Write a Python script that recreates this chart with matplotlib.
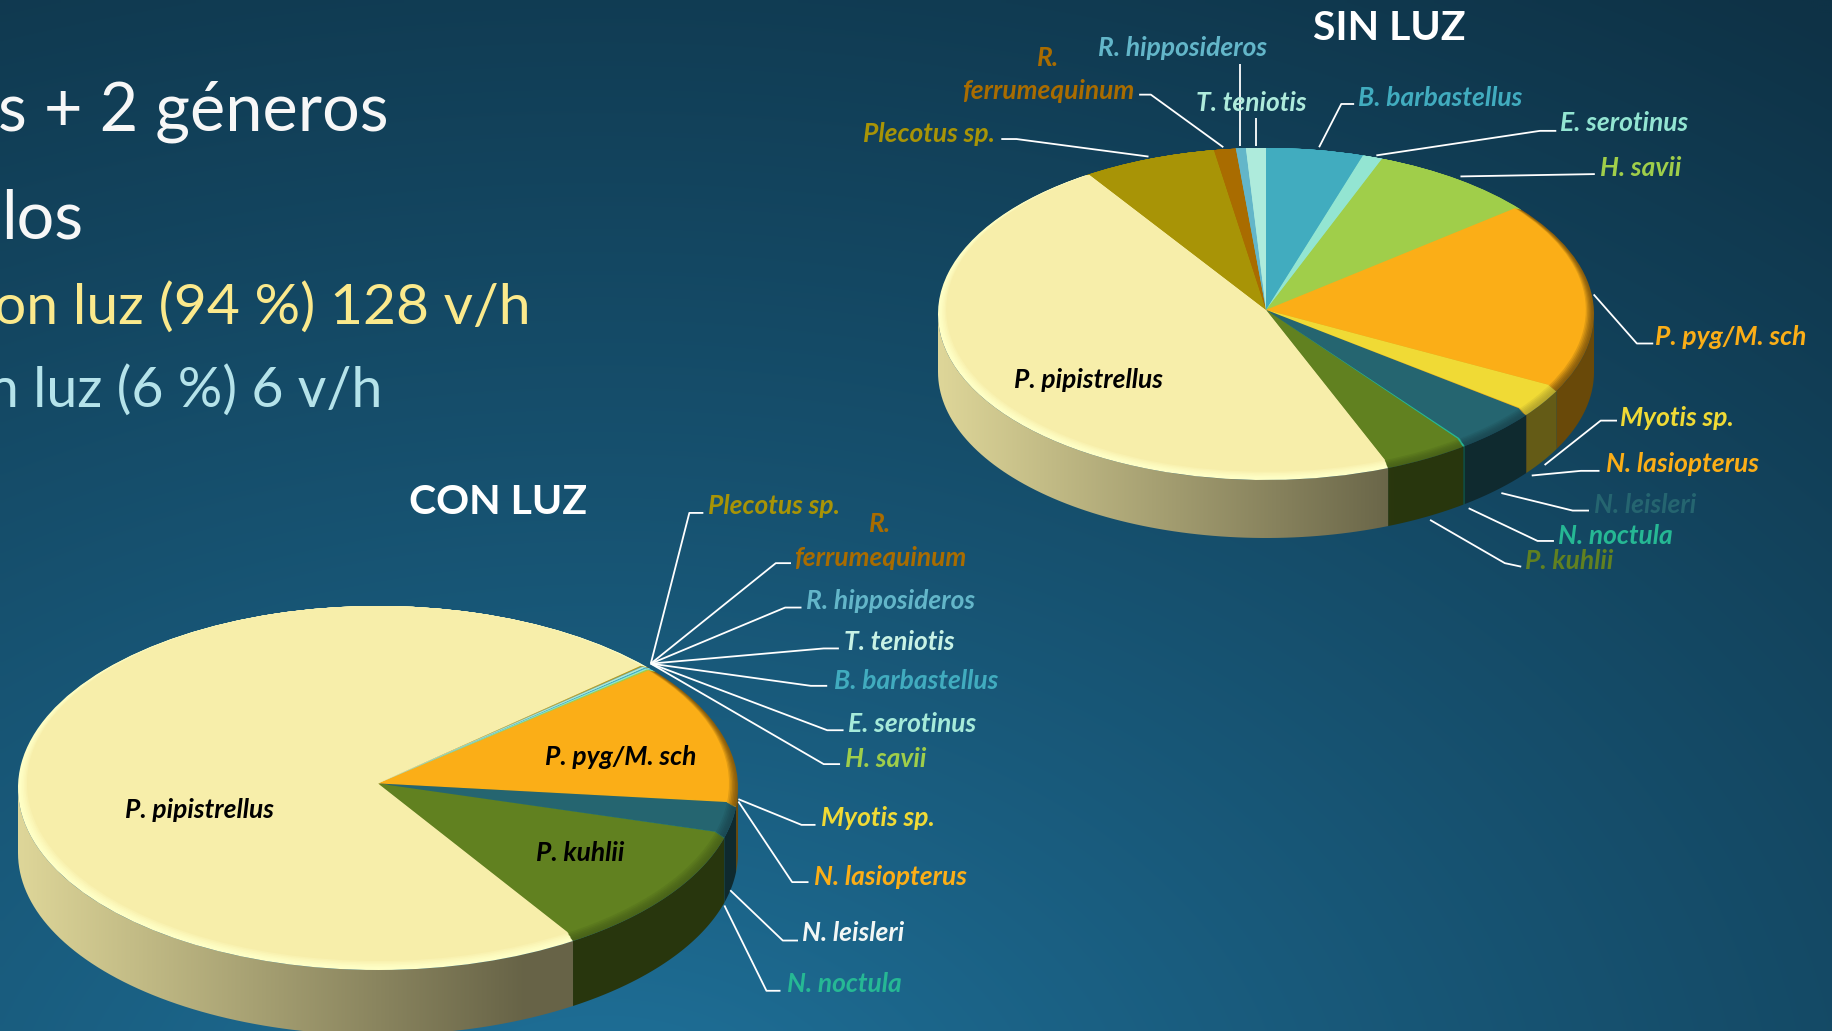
import numpy as np
import matplotlib
matplotlib.use("Agg")
import matplotlib.pyplot as plt
from matplotlib.colors import to_rgb
from matplotlib.patches import Polygon

W, H = 1832, 1031
# label coordinates below were read on the 1568 wide view
S = W / 1568.0

plt.rcParams['font.family'] = ['Lato', 'DejaVu Sans']

especies = ["B. barbastellus", "E. serotinus", "H. savii", "P. pyg/M. sch", "Myotis sp.",
            "N. lasiopterus", "N. leisleri", "N. noctula", "P. kuhlii", "P. pipistrellus",
            "Plecotus sp.", "R. ferrumequinum", "R. hipposideros", "T. teniotis"]
sin_luz = [4.9, 1.0, 8.3, 18.5, 2.7, 0.05, 4.2, 0.1, 4.2, 46.8, 6.7, 1.1, 0.5, 1.0]
con_luz = [0.1, 0.1, 0.1, 12.6, 0.02, 0.02, 2.7, 0.02, 11.45, 72.35, 0.05, 0.03, 0.05, 0.1]

colores = ["#41ACBF", "#93E5D2", "#A0CE4A", "#FBAE17", "#F0DA35", "#FBAE17", "#256570", "#26B894",
           "#618120", "#F7EEAA", "#A89406", "#A96C00", "#63B6C9", "#AEEBDC"]
biseles = ["#41ACBF", "#93E5D2", "#A0CE4A", "#8A5E0C", "#B8A82C", "#FBAE17", "#1B4A54", "#26B894",
           "#4A6418", "#FFFFC6", "#A89406", "#A96C00", "#63B6C9", "#AEEBDC"]


def shade(x):
    # wall gets darker going right, flat after x=0.4
    return np.interp(x, [-1, 0.4, 1], [0.9, 0.42, 0.42])


def draw_pie(cx, cy, a, b, depth, vals, start):
    d = depth / float(b)
    ax = fig.add_axes([(cx - a) / W, 1 - (cy + b + depth) / H, 2.0 * a / W, (2.0 * b + depth) / H])
    ax.patch.set_visible(False)
    vals = np.array(vals, dtype=float)
    edges = start + 360 * np.concatenate([[0], np.cumsum(vals)]) / vals.sum()

    # side wall, only the part facing us
    grad = np.linspace(-1, 1, 400)
    for i, col in enumerate(colores):
        t0 = edges[i] % 360
        t1 = t0 + (edges[i + 1] - edges[i])
        for off in [0, 360]:
            lo, hi = max(t0, 90 + off), min(t1, 270 + off)
            if hi <= lo:
                continue
            t = np.radians(np.linspace(lo, hi, 80))
            top = np.column_stack([np.sin(t), np.cos(t)])
            bot = np.column_stack([np.sin(t[::-1]), np.cos(t[::-1]) - d])
            img = np.array(to_rgb(col))[None, None, :] * shade(grad)[None, :, None]
            im = ax.imshow(img, extent=(-1, 1, -1 - d, 1), aspect='auto', zorder=1, interpolation='bilinear')
            im.set_clip_path(Polygon(np.vstack([top, bot]), closed=True, transform=ax.transData))

    # soft rim: nested pies going from rim colour to face colour
    pasos = 7
    for k in range(pasos):
        f = k / (pasos - 1.0)
        mezcla = [tuple((1 - f ** 1.5) * np.array(to_rgb(r)) + f ** 1.5 * np.array(to_rgb(c)))
                  for r, c in zip(biseles, colores)]
        ax.pie(vals, colors=mezcla, startangle=90 - start, counterclock=False,
               radius=1 - 0.025 * f, center=(0, 0.025 * f),
               wedgeprops={'linewidth': 0, 'zorder': 2 + k})
    ax.set_aspect('auto')
    ax.set_xlim(-1, 1)
    ax.set_ylim(-1 - d, 1)
    ax.axis('off')


fig = plt.figure(figsize=(W / 100.0, H / 100.0), dpi=100)

# background
bg = fig.add_axes([0, 0, 1, 1])
yy, xx = np.mgrid[0:H:200j, 0:W:300j]
r = np.clip(np.hypot((xx - 600) / 1500.0, (yy - 1150) / 1000.0) / 1.4, 0, 1)
c0, c1 = np.array(to_rgb("#20759F")), np.array(to_rgb("#0E3246"))
bg.imshow(c0 + (c1 - c0) * r[:, :, None] ** 0.85, extent=(0, W, H, 0), aspect='auto', interpolation='bilinear')
bg.axis('off')

draw_pie(1266, 314, 328, 166, 58, sin_luz, 0)
draw_pie(378, 788, 360, 182, 65, con_luz, 49.3)

ov = fig.add_axes([0, 0, 1, 1])
ov.set_xlim(0, W)
ov.set_ylim(H, 0)
ov.axis('off')

# leader lines
lineas = [
    [(857, 119), (870, 119), (983, 134)],
    [(975, 81), (985, 81), (1047, 126)],
    [(1061, 55), (1061, 125)],
    [(1075, 101), (1075, 125)],
    [(1159, 89), (1148, 89), (1129, 126)],
    [(1332, 112), (1318, 112), (1178, 133)],
    [(1365, 149), (1250, 151)],
    [(1415, 294), (1401, 294), (1364, 252)],
    [(1384, 360), (1370, 360), (1322, 398)],
    [(1369, 403), (1353, 403), (1311, 407)],
    [(1360, 437), (1346, 437), (1285, 422)],
    [(1330, 463), (1316, 463), (1257, 435)],
    [(1302, 485), (1288, 482), (1224, 445)],
    [(602, 439), (590, 439), (557, 568)],
    [(677, 482), (664, 482), (557, 568)],
    [(686, 520), (672, 520), (557, 568)],
    [(718, 555), (705, 555), (557, 568)],
    [(708, 587), (694, 587), (557, 568)],
    [(722, 625), (708, 625), (557, 568)],
    [(719, 654), (705, 654), (557, 568)],
    [(698, 706), (686, 706), (632, 684)],
    [(692, 755), (678, 755), (632, 686)],
    [(683, 805), (670, 805), (625, 762)],
    [(668, 848), (656, 848), (620, 775)],
]
for ln in lineas:
    p = np.array(ln) * S
    ov.plot(p[:, 0], p[:, 1], color="white", lw=1.3, solid_capstyle='butt')

# (text, x, y, colour) species labels
etiquetas = [
    ("R.", 897, 48, "#A96C00"), ("ferrumequinum", 897, 76, "#A96C00"),
    ("R. hipposideros", 1012, 40, "#63B6C9"), ("T. teniotis", 1071, 87, "#AEEBDC"),
    ("B. barbastellus", 1233, 82, "#41ACBF"), ("E. serotinus", 1390, 104, "#93E5D2"),
    ("H. savii", 1404, 142, "#A0CE4A"), ("P. pyg/M. sch", 1481, 287, "#FBAE17"),
    ("Myotis sp.", 1435, 356, "#F0DA35"), ("N. lasiopterus", 1440, 396, "#FBAE17"),
    ("N. leisleri", 1408, 431, "#256570"), ("N. noctula", 1383, 457, "#26B894"),
    ("P. kuhlii", 1343, 479, "#618120"), ("Plecotus sp.", 795, 113, "#A89406"),
    ("P. pipistrellus", 932, 324, "black"),
    ("Plecotus sp.", 662, 432, "#A89406"), ("R.", 753, 447, "#A96C00"),
    ("ferrumequinum", 753, 476, "#A96C00"), ("R. hipposideros", 762, 513, "#63B6C9"),
    ("T. teniotis", 770, 548, "#C8F2E5"), ("B. barbastellus", 784, 581, "#41ACBF"),
    ("E. serotinus", 781, 618, "#A6EBDA"), ("H. savii", 758, 648, "#A0CE4A"),
    ("Myotis sp.", 751, 699, "#F0DA35"), ("N. lasiopterus", 762, 749, "#FBAE17"),
    ("N. leisleri", 730, 797, "#F2F7F5"), ("N. noctula", 723, 841, "#26B894"),
    ("P. pyg/M. sch", 531, 646, "black"), ("P. kuhlii", 497, 729, "black"),
    ("P. pipistrellus", 171, 692, "black"),
]
for txt, x, y, col in etiquetas:
    ov.text(x * S, (y + 1.5) * S, txt, color=col, fontsize=19, style='italic', weight='bold', ha='center', va='center')

ov.text(1189 * S, 24 * S, "SIN LUZ", color="white", fontsize=29.5, weight='bold', ha='center', va='center')
ov.text(426 * S, 430 * S, "CON LUZ", color="white", fontsize=29.5, weight='bold', ha='center', va='center')

# slide text, cut by the left edge in the original
ov.text(333 * S, 112 * S, "s + 2 géneros", color="#F7F7F7", fontsize=48, ha='right', va='baseline')
ov.text(71 * S, 204 * S, "los", color="#F7F7F7", fontsize=48, ha='right', va='baseline')
ov.text(454 * S, 277 * S, "on luz (94 %) 128 v/h", color="#FBE98C", fontsize=41, ha='right', va='baseline')
ov.text(327 * S, 348 * S, "n luz (6 %) 6 v/h", color="#B5E3EA", fontsize=40, ha='right', va='baseline')

plt.savefig("out.png", dpi=100)
